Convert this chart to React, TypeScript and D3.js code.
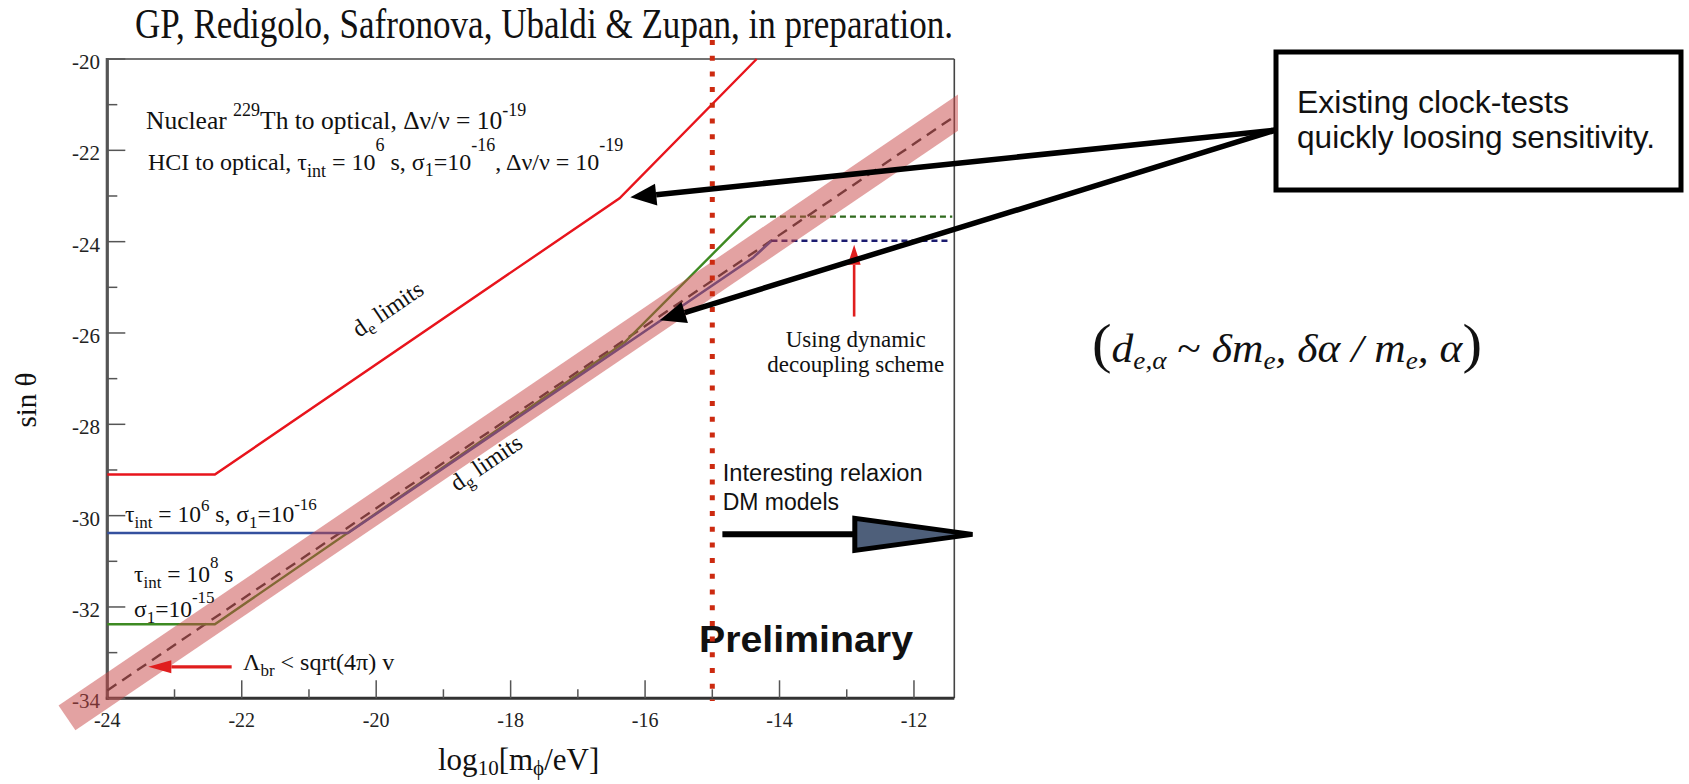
import React from "react";
import * as d3 from "d3";

// ---------- axes ----------
const X_DOMAIN = [-24, -11.4];
const Y_DOMAIN = [-34, -20];
const xMajorTicks = [-24, -22, -20, -18, -16, -14, -12];
const xMinorTicks = [-23, -21, -19, -17, -15, -13];
const yMajorTicks = [-34, -32, -30, -28, -26, -24, -22, -20];
const yMinorTicks = [-33, -31, -29, -27, -25, -23, -21];

// ---------- series ----------
const deLimitX = [-24, -22.4, -16.38, -14.34];
const deLimitY = [-29.1, -29.1, -23.05, -20];

const hciX = [-24, -20.42, -14.4, -14.12];
const hciY = [-30.38, -30.38, -24.36, -23.98];
const hciDDX = [-14.12, -11.5];
const hciDDY = [-23.98, -23.98];

const thX = [-24, -22.4, -16.3, -14.44];
const thY = [-32.38, -32.38, -26.2, -23.45];
const thDDX = [-14.44, -11.43];
const thDDY = [-23.45, -23.45];

const dgLimitX = [-24, -11.44];
const dgLimitY = [-33.83, -21.3];

const bandX = [-24.6, -11.0];
const bandY = [-34.43, -20.83];

const relaxionBoundary = -15;

// annotation anchors (data units)
const arrowTips = [
  [-16.22, -23.03],
  [-15.78, -25.72],
];
const lambdaArrowFrom = [-22.15, -33.31];
const lambdaArrowTo = [-23.39, -33.31];
const ddArrowFrom = [-12.89, -25.64];
const ddArrowTo = [-12.89, -24.07];
const relaxArrowX = [-14.85, -12.88, -11.13];
const relaxArrowY = -30.41;

const SERIF = "'Liberation Serif', 'Times New Roman', serif";
const SANS = "'Liberation Sans', Arial, Helvetica, sans-serif";

function head(fx: number, fy: number, tx: number, ty: number, len: number, half: number) {
  const dx = tx - fx, dy = ty - fy;
  const L = Math.hypot(dx, dy);
  const ux = dx / L, uy = dy / L;
  const bx = tx - ux * len, by = ty - uy * len;
  return {
    bx,
    by,
    pts: `${tx},${ty} ${bx - uy * half},${by + ux * half} ${bx + uy * half},${by - ux * half}`,
  };
}

export default function App() {
  const x = d3.scaleLinear().domain(X_DOMAIN).range([107.3, 954.3]);
  const y = d3.scaleLinear().domain(Y_DOMAIN).range([698.3, 59]);
  const line = d3
    .line<[number, number]>()
    .x((d) => x(d[0]))
    .y((d) => y(d[1]));
  const z = (a: number[], b: number[]) => d3.zip(a, b) as [number, number][];

  const x0 = x.range()[0], x1 = x.range()[1];
  const y0 = y.range()[0], y1 = y.range()[1];

  const boxX = 1276, boxY = 52, boxW = 405, boxH = 138;
  const origin = [boxX, 130];

  const lam = head(x(lambdaArrowFrom[0]), y(lambdaArrowFrom[1]), x(lambdaArrowTo[0]), y(lambdaArrowTo[1]), 23, 6.5);
  const dd = head(x(ddArrowFrom[0]), y(ddArrowFrom[1]), x(ddArrowTo[0]), y(ddArrowTo[1]), 20, 6.5);
  const blk = arrowTips.map((t) => head(origin[0], origin[1], x(t[0]), y(t[1]), 26, 11));

  const rY = y(relaxArrowY);
  const angle = -(Math.atan2(y(-33) - y(-34), x(-23) - x(-24)) * -180) / Math.PI;

  return (
    <svg
      width={1689}
      height={784}
      style={{ position: "absolute", left: 0, top: 0, background: "#fff" }}
      fontFamily={SERIF}
    >
      <defs>
        <clipPath id="bandClip">
          <rect x={0} y={0} width={958} height={784} />
        </clipPath>
      </defs>
      <rect x={0} y={0} width={1689} height={784} fill="#fff" />

      {/* title */}
      <text x={135} y={38} fontSize={42} textLength={818} lengthAdjust="spacingAndGlyphs" fill="#111">
        GP, Redigolo, Safronova, Ubaldi &amp; Zupan, in preparation.
      </text>

      {/* frame */}
      <line x1={x0} x2={x1} y1={y1} y2={y1} stroke="#444" strokeWidth={1.6} />
      <line x1={x1} x2={x1} y1={y1} y2={y0} stroke="#444" strokeWidth={1.6} />
      <line x1={x0} x2={x0} y1={y1 - 1} y2={y0 + 1.5} stroke="#555" strokeWidth={3.2} />
      <line x1={x0 - 1.5} x2={x1} y1={y0} y2={y0} stroke="#333" strokeWidth={3} />

      {/* ticks */}
      {xMajorTicks.map((t) => (
        <g key={"xM" + t}>
          <line x1={x(t)} x2={x(t)} y1={y0} y2={y0 - 18} stroke="#555" strokeWidth={1.5} />
          <text x={x(t)} y={y0 + 22} fontSize={20} textAnchor="middle" dominantBaseline="central" fill="#222">
            {t}
          </text>
        </g>
      ))}
      {xMinorTicks.map((t) => (
        <line key={"xm" + t} x1={x(t)} x2={x(t)} y1={y0} y2={y0 - 9} stroke="#555" strokeWidth={1.5} />
      ))}
      {yMajorTicks.map((t) => (
        <g key={"yM" + t}>
          <line x1={x0} x2={x0 + 18} y1={y(t)} y2={y(t)} stroke="#555" strokeWidth={1.5} />
          <text x={100} y={y(t) + 3} fontSize={21} textAnchor="end" dominantBaseline="central" fill="#222">
            {t}
          </text>
        </g>
      ))}
      {yMinorTicks.map((t) => (
        <line key={"ym" + t} x1={x0} x2={x0 + 10} y1={y(t)} y2={y(t)} stroke="#555" strokeWidth={1.5} />
      ))}

      {/* axis titles */}
      <text transform="translate(36,400) rotate(-90)" fontSize={29} textAnchor="middle" fill="#111">
        sin θ
      </text>
      <text x={438} y={770} fontSize={31} fill="#111">
        log<tspan fontSize={21} dy={5}>10</tspan>
        <tspan dy={-5}>[m</tspan>
        <tspan fontSize={21} dy={5}>ϕ</tspan>
        <tspan dy={-5}>/eV]</tspan>
      </text>

      {/* data lines */}
      <path d={line(z(dgLimitX, dgLimitY))!} fill="none" stroke="#333" strokeWidth={2.4} strokeDasharray="11 7" />
      <path d={line(z(thX, thY))!} fill="none" stroke="#3d8a22" strokeWidth={2.4} />
      <path d={line(z(hciX, hciY))!} fill="none" stroke="#34509e" strokeWidth={2.6} />
      <path d={line(z(thDDX, thDDY))!} fill="none" stroke="#2e6a1c" strokeWidth={2.2} strokeDasharray="6 4" />
      <path d={line(z(hciDDX, hciDDY))!} fill="none" stroke="#1c1c70" strokeWidth={2.4} strokeDasharray="6 4" />
      <path d={line(z(deLimitX, deLimitY))!} fill="none" stroke="#e8141c" strokeWidth={2.4} />

      {/* band */}
      <g clipPath="url(#bandClip)">
        <path
          d={line(z(bandX, bandY))!}
          fill="none"
          stroke="rgb(200,70,70)"
          strokeOpacity={0.5}
          strokeWidth={30}
          strokeLinecap="butt"
        />
      </g>

      {/* plot texts */}
      <text x={146} y={129.3} fontSize={25.5} fill="#111">
        Nuclear <tspan fontSize={18} dy={-13}>229</tspan>
        <tspan dy={13}>Th to optical, Δν/ν = 10</tspan>
        <tspan fontSize={18} dy={-13}>-19</tspan>
      </text>
      <text x={148} y={170} fontSize={24} fill="#111">
        HCI to optical, τ<tspan fontSize={18} dy={7}>int</tspan>
        <tspan dy={-7}> = 10</tspan>
        <tspan fontSize={18} dy={-19}>6</tspan>
        <tspan dy={19}> s, σ</tspan>
        <tspan fontSize={18} dy={6}>1</tspan>
        <tspan dy={-6}>=10</tspan>
        <tspan fontSize={18} dy={-19}>-16</tspan>
        <tspan dy={19}>, Δν/ν = 10</tspan>
        <tspan fontSize={18} dy={-19}>-19</tspan>
      </text>

      <text transform={`translate(359,338) rotate(${angle})`} fontSize={24} fill="#111">
        d<tspan fontSize={17} dy={5}>e</tspan>
        <tspan dy={-5}> limits</tspan>
      </text>
      <text transform={`translate(457,492) rotate(${angle})`} fontSize={24} fill="#111">
        d<tspan fontSize={17} dy={5}>g</tspan>
        <tspan dy={-5}> limits</tspan>
      </text>

      <text x={125} y={521.7} fontSize={23.5} fill="#111">
        τ<tspan fontSize={17} dy={6}>int</tspan>
        <tspan dy={-6}> = 10</tspan>
        <tspan fontSize={17} dy={-11}>6</tspan>
        <tspan dy={11}> s, σ</tspan>
        <tspan fontSize={17} dy={6}>1</tspan>
        <tspan dy={-6}>=10</tspan>
        <tspan fontSize={17} dy={-12}>-16</tspan>
      </text>
      <text x={134} y={581.7} fontSize={23.5} fill="#111">
        τ<tspan fontSize={17} dy={6}>int</tspan>
        <tspan dy={-6}> = 10</tspan>
        <tspan fontSize={17} dy={-14}>8</tspan>
        <tspan dy={14}> s</tspan>
      </text>
      <text x={134} y={616.7} fontSize={23.5} fill="#111">
        σ<tspan fontSize={17} dy={6}>1</tspan>
        <tspan dy={-6}>=10</tspan>
        <tspan fontSize={17} dy={-14}>-15</tspan>
      </text>
      <text x={243} y={670} fontSize={24} fill="#111">
        Λ<tspan fontSize={17} dy={6}>br</tspan>
        <tspan dy={-6}> &lt; sqrt(4π) v</tspan>
      </text>

      <text x={855.7} y={347} fontSize={23} textAnchor="middle" fill="#111">
        Using dynamic
      </text>
      <text x={855.7} y={372} fontSize={23} textAnchor="middle" fill="#111">
        decoupling scheme
      </text>

      {/* Preliminary */}
      <text x={699} y={651.7} fontSize={37} fontWeight="bold" fontFamily={SANS} textLength={214} lengthAdjust="spacingAndGlyphs" fill="#111">
        Preliminary
      </text>

      {/* relaxion text & arrow */}
      <text x={722.7} y={481} fontSize={23} fontFamily={SANS} textLength={200} lengthAdjust="spacingAndGlyphs" fill="#111">
        Interesting relaxion
      </text>
      <text x={722.7} y={510} fontSize={23} fontFamily={SANS} fill="#111">
        DM models
      </text>
      <line x1={x(relaxArrowX[0])} x2={x(relaxArrowX[1])} y1={rY} y2={rY} stroke="#000" strokeWidth={6} />
      <polygon
        points={`${x(relaxArrowX[1])},${rY - 16} ${x(relaxArrowX[1])},${rY + 16} ${x(relaxArrowX[2])},${rY}`}
        fill="#4e5f7a"
        stroke="#000"
        strokeWidth={5}
        strokeLinejoin="miter"
      />

      {/* red arrows */}
      <line x1={x(lambdaArrowFrom[0])} y1={y(lambdaArrowFrom[1])} x2={lam.bx} y2={lam.by} stroke="#e01e1e" strokeWidth={3.2} />
      <polygon points={lam.pts} fill="#e01e1e" />
      <line x1={x(ddArrowFrom[0])} y1={y(ddArrowFrom[1])} x2={dd.bx} y2={dd.by} stroke="#e01e1e" strokeWidth={2.6} />
      <polygon points={dd.pts} fill="#e01e1e" />

      {/* red dotted boundary */}
      <line
        x1={x(relaxionBoundary)}
        x2={x(relaxionBoundary)}
        y1={40}
        y2={701}
        stroke="#cc2a10"
        strokeWidth={5}
        strokeDasharray="5 10.7"
      />

      {/* black arrows from box */}
      {blk.map((h, i) => (
        <g key={"blk" + i}>
          <line x1={origin[0]} y1={origin[1]} x2={h.bx} y2={h.by} stroke="#000" strokeWidth={5.5} />
          <polygon points={h.pts} fill="#000" />
        </g>
      ))}

      {/* box */}
      <rect x={boxX} y={boxY} width={boxW} height={boxH} fill="#fff" stroke="#000" strokeWidth={5} />
      <text x={1297} y={113} fontSize={32} fontFamily={SANS} textLength={272} lengthAdjust="spacingAndGlyphs" fill="#111">
        Existing clock-tests
      </text>
      <text x={1297} y={148} fontSize={32} fontFamily={SANS} textLength={358} lengthAdjust="spacingAndGlyphs" fill="#111">
        quickly loosing sensitivity.
      </text>

      {/* formula */}
      <text x={1092} y={362} fontSize={40} fontStyle="italic" fill="#111" textLength={390} lengthAdjust="spacingAndGlyphs">
        <tspan fontStyle="normal" fontSize={54}>(</tspan>
        <tspan>d</tspan>
        <tspan fontSize={25} dy={7}>e,α</tspan>
        <tspan dy={-7} fontStyle="normal"> ~  </tspan>
        <tspan>δm</tspan>
        <tspan fontSize={25} dy={7}>e</tspan>
        <tspan dy={-7}>, δα / m</tspan>
        <tspan fontSize={25} dy={7}>e</tspan>
        <tspan dy={-7}>, α</tspan>
        <tspan fontStyle="normal" fontSize={54}>)</tspan>
      </text>
    </svg>
  );
}
